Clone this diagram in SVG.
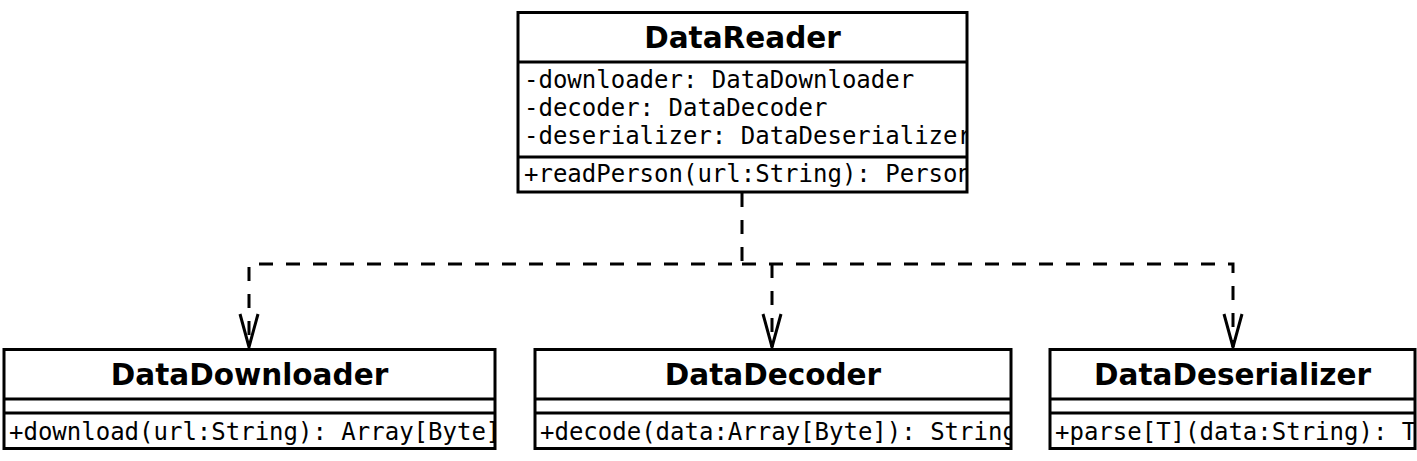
<svg xmlns="http://www.w3.org/2000/svg" width="1417" height="461" viewBox="0 0 1417 461">
<style>
.box{fill:#fff;stroke:#000;stroke-width:3}
.ln{stroke:#000;stroke-width:3;fill:none}
.title{font-family:"DejaVu Sans",sans-serif;font-weight:bold;font-size:29.5px;text-anchor:middle;fill:#000}
.mem{font-family:"DejaVu Sans Mono",monospace;font-size:24px;fill:#000}
.dep{stroke:#000;stroke-width:3;fill:none;stroke-dasharray:14 13}
</style>
<defs>
<marker id="open" markerUnits="userSpaceOnUse" markerWidth="40" markerHeight="24" refX="0" refY="0" orient="auto" overflow="visible">
<path d="M-33 -9 L0 0 L-33 9" fill="none" stroke="#000" stroke-width="3"/>
</marker>
<clipPath id="c1"><rect x="519" y="14" width="447" height="177"/></clipPath>
<clipPath id="c2"><rect x="5" y="351" width="489" height="96"/></clipPath>
<clipPath id="c3"><rect x="536" y="351" width="474" height="96"/></clipPath>
<clipPath id="c4"><rect x="1051" y="351" width="363" height="96"/></clipPath>
</defs>
<g id="connectors">
<path class="dep" d="M742 193 V264 H249 V347" marker-end="url(#open)"/>
<path class="dep" d="M742 264 H1233 V347" marker-end="url(#open)"/>
<path class="dep" d="M772 264 V347" marker-end="url(#open)"/>
</g>
<g id="DataReader">
<rect class="box" x="518" y="12.5" width="449" height="179.5"/>
<line class="ln" x1="518" y1="62" x2="967" y2="62"/>
<line class="ln" x1="518" y1="157" x2="967" y2="157"/>
<text class="title" x="742.5" y="48">DataReader</text>
<g clip-path="url(#c1)">
<text class="mem" x="524" y="88">-downloader: DataDownloader</text>
<text class="mem" x="524" y="116">-decoder: DataDecoder</text>
<text class="mem" x="524" y="144">-deserializer: DataDeserializer</text>
<text class="mem" x="524" y="182">+readPerson(url:String): Person</text>
</g>
</g>
<g id="DataDownloader">
<rect class="box" x="4" y="349.5" width="491" height="99"/>
<line class="ln" x1="4" y1="399" x2="495" y2="399"/>
<line class="ln" x1="4" y1="413" x2="495" y2="413"/>
<text class="title" x="249.5" y="385">DataDownloader</text>
<g clip-path="url(#c2)"><text class="mem" x="9" y="440">+download(url:String): Array[Byte]</text></g>
</g>
<g id="DataDecoder">
<rect class="box" x="535" y="349.5" width="476" height="99"/>
<line class="ln" x1="535" y1="399" x2="1011" y2="399"/>
<line class="ln" x1="535" y1="413" x2="1011" y2="413"/>
<text class="title" x="773" y="385">DataDecoder</text>
<g clip-path="url(#c3)"><text class="mem" x="540" y="440">+decode(data:Array[Byte]): String</text></g>
</g>
<g id="DataDeserializer">
<rect class="box" x="1050" y="349.5" width="365" height="99"/>
<line class="ln" x1="1050" y1="399" x2="1415" y2="399"/>
<line class="ln" x1="1050" y1="413" x2="1415" y2="413"/>
<text class="title" x="1232.5" y="385">DataDeserializer</text>
<g clip-path="url(#c4)"><text class="mem" x="1055" y="440">+parse[T](data:String): T</text></g>
</g>
</svg>
